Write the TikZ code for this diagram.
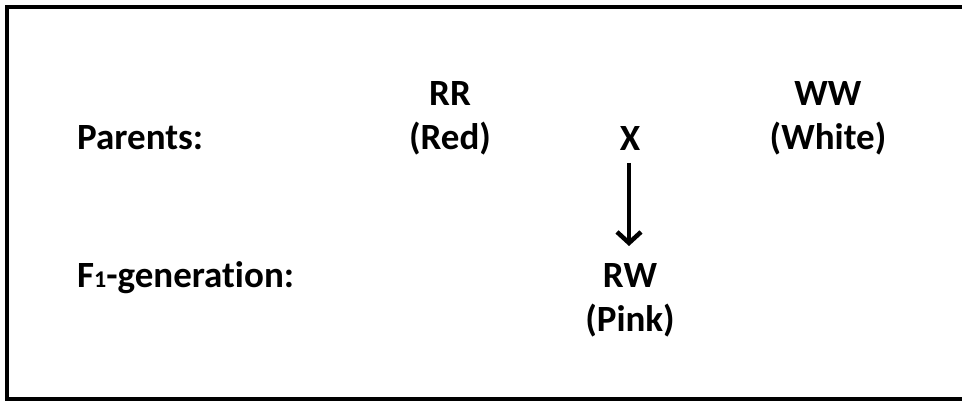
\documentclass[tikz,border=0pt]{standalone}
\usepackage{fontspec}
\setmainfont[Ligatures=NoCommon]{Carlito}
\usetikzlibrary{arrows.meta}
\begin{document}
\begin{tikzpicture}[x=1pt,y=-1pt,
  lbl/.style={font=\fontsize{37}{44}\selectfont\bfseries, inner sep=0pt, align=center},
  frame/.style={line width=4pt, line cap=rect}]
\useasboundingbox (0,0) rectangle (962,403);
\coordinate (bl) at (7,399);
\coordinate (tl) at (7,7);
\coordinate (tr) at (975,7);
\coordinate (br) at (975,399);
\draw[frame] (tr) -- (tl) -- (bl) -- (br);
\node[lbl, anchor=base west] (parents) at (77,150) {Parents:};
\node[lbl, anchor=base] (red) at (450,150) {RR\\(Red)};
\node[lbl, anchor=base] (x) at (630,151) {X};
\node[lbl, anchor=base] (white) at (828,150) {WW\\(White)};
\node[lbl, anchor=base west] (f1) at (77,288) {F{\fontsize{24}{24}\selectfont 1}-generation:};
\node[lbl, anchor=base] (pink) at (630,332) {RW\\(Pink)};
\coordinate (arrs) at (629,163);
\coordinate (arre) at (629,246);
\draw[line width=4.5pt, -{Straight Barb[length=11pt,width=24pt,line width=4.5pt]}] (arrs) -- (arre);
\end{tikzpicture}
\end{document}
